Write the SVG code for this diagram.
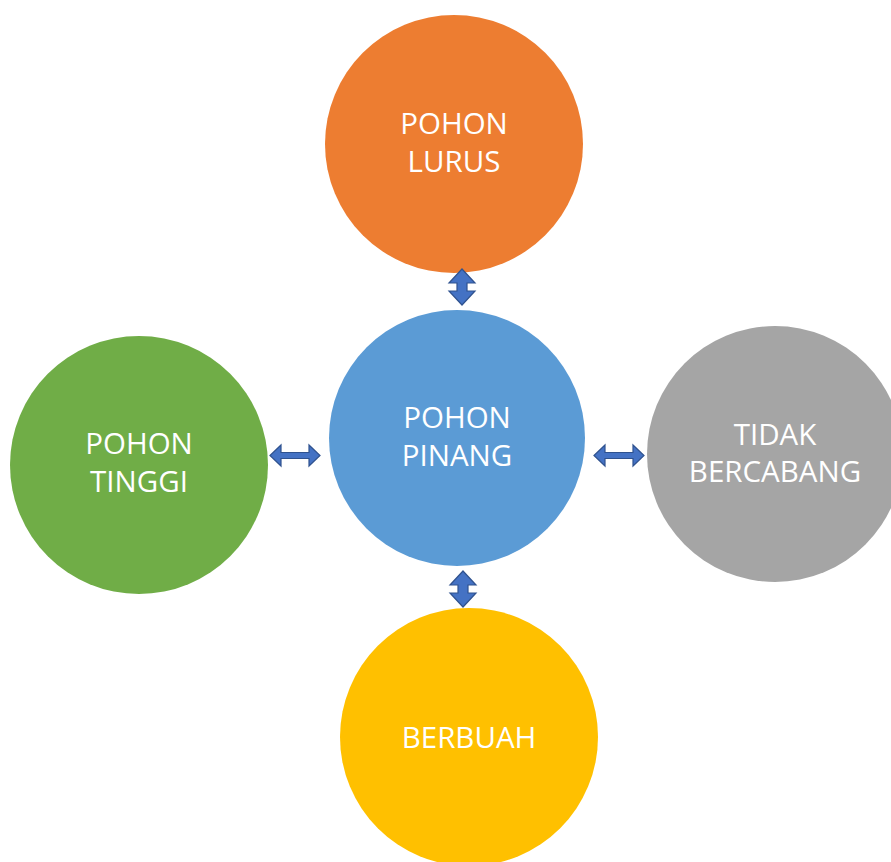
<svg xmlns="http://www.w3.org/2000/svg" width="891" height="862" viewBox="0 0 891 862">
<style>
text{font-family:"Open Sans","Liberation Sans",Arial,sans-serif;font-size:29.5px;fill:#fff;text-anchor:middle}
.arr{fill:#4472C4;stroke:#2F528F;stroke-width:1.2}
</style>
<rect width="891" height="862" fill="#fff"/>
<g id="pohon-lurus"><circle cx="454" cy="144" r="129" fill="#ED7D31"/><text x="454" y="134">POHON</text><text x="454" y="172">LURUS</text></g>
<g id="pohon-pinang"><circle cx="457" cy="438" r="128" fill="#5B9BD5"/><text x="457" y="428">POHON</text><text x="457" y="466">PINANG</text></g>
<g id="pohon-tinggi"><circle cx="139" cy="465" r="129" fill="#70AD47"/><text x="139" y="454">POHON</text><text x="139" y="492">TINGGI</text></g>
<g id="tidak-bercabang"><circle cx="775" cy="454" r="128" fill="#A5A5A5"/><text x="775" y="445">TIDAK</text><text x="775" y="482">BERCABANG</text></g>
<g id="berbuah"><circle cx="469" cy="737" r="129" fill="#FFC000"/><text x="469" y="748">BERBUAH</text></g>
<g id="connectors">
<path class="arr" d="M462,269 L475,283 L467,283 L467,291 L475,291 L462,305 L449,291 L457,291 L457,283 L449,283 Z"/>
<path class="arr" d="M463,571 L476,585 L468,585 L468,593 L476,593 L463,607 L450,593 L458,593 L458,585 L450,585 Z"/>
<path class="arr" d="M270,455.5 L281,445 L281,452.5 L309,452.5 L309,445 L320,455.5 L309,466 L309,458.5 L281,458.5 L281,466 Z"/>
<path class="arr" d="M594,455.5 L605,445 L605,452.5 L633,452.5 L633,445 L644,455.5 L633,466 L633,458.5 L605,458.5 L605,466 Z"/>
</g>
</svg>
